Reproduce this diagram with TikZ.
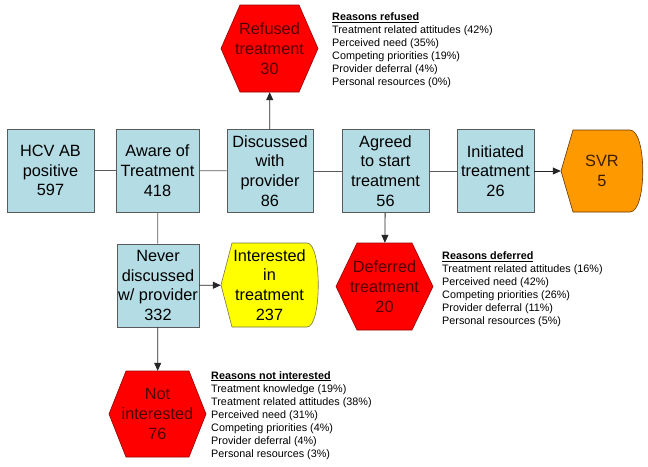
\documentclass[tikz,border=0pt]{standalone}
\usepackage{fontspec}
\setmainfont{Liberation Sans}
\usetikzlibrary{arrows.meta}
\definecolor{boxfill}{RGB}{180,220,228}
\definecolor{boxline}{RGB}{90,90,90}
\definecolor{hexred}{RGB}{255,0,0}
\definecolor{hextext}{RGB}{80,0,0}
\definecolor{yel}{RGB}{255,255,0}
\definecolor{orng}{RGB}{255,153,0}
\definecolor{svrtext}{RGB}{60,30,0}
\tikzset{
  stagebox/.style={draw=boxline, line width=0.8pt, fill=boxfill, minimum height=83pt, inner sep=0pt, align=center, font=\fontsize{16.3}{19.7}\selectfont},
  shapetext/.style={inner sep=0pt, align=center, font=\fontsize{16.3}{19.7}\selectfont},
  redshape/.style={fill=hexred, draw=red!60!black, line width=0.6pt},
  yelshape/.style={fill=yel, draw=yellow!40!black, line width=0.6pt},
  orshape/.style={fill=orng, draw=orange!40!black, line width=0.6pt},
  link/.style={draw=boxline, line width=0.8pt},
  arr/.style={draw=black!85, line width=0.8pt, -{Triangle[length=8pt,width=7pt]}},
  reasons/.style={inner sep=0pt, anchor=north west, align=left, font=\fontsize{10.8}{13}\selectfont}
}
\begin{document}
\begin{tikzpicture}[x=1pt,y=-1pt]
\useasboundingbox[fill=white] (0,0) rectangle (648,466);

% shapes (backgrounds)
\path[redshape] (221,48.5) -- (240,5) -- (299,5) -- (318,48.5) -- (299,92) -- (240,92) -- cycle;
\path[redshape] (336,286.5) -- (357,243) -- (412,243) -- (433,286.5) -- (412,330) -- (357,330) -- cycle;
\path[redshape] (109,414) -- (126,371) -- (189,371) -- (206,414) -- (189,457) -- (126,457) -- cycle;
\path[orshape] (561,171) -- (573,130) -- (630,130) .. controls (647,130) and (647,212) .. (630,212) -- (573,212) -- cycle;
\path[yelshape] (221,285) -- (232,243) -- (307,243) .. controls (322,243) and (322,327) .. (307,327) -- (232,327) -- cycle;

% boxes
\node[stagebox, minimum width=87pt] (hcv) at (50.5,170.5) {HCV AB\\positive\\597};
\node[stagebox, minimum width=83pt] (aware) at (157.5,170.5) {Aware of\\Treatment\\418};
\node[stagebox, minimum width=86pt] (disc) at (270,171) {Discussed\\with\\provider\\86};
\node[stagebox, minimum width=87pt] (agreed) at (385.5,171) {Agreed\\to start\\treatment\\56};
\node[stagebox, minimum width=77pt] (init) at (495.5,171) {Initiated\\treatment\\26};
\node[stagebox, minimum width=82pt] (never) at (158,285.5) {Never\\discussed\\w/ provider\\332};

% shape texts
\node[shapetext, text=hextext, minimum width=97pt, minimum height=87pt] (refused) at (269.5,48.5) {Refused\\treatment\\30};
\node[shapetext, text=hextext, minimum width=97pt, minimum height=87pt] (deferred) at (384.5,286.5) {Deferred\\treatment\\20};
\node[shapetext, text=hextext, minimum width=97pt, minimum height=86pt] (notint) at (157.5,414) {Not\\interested\\76};
\node[shapetext, text=svrtext, minimum width=82pt, minimum height=82pt] (svr) at (602,171) {SVR\\5};
\node[shapetext, minimum width=97pt, minimum height=84pt] (inter) at (269.5,285) {Interested\\in\\treatment\\237};

% connectors
\draw[link] (hcv) -- (aware);
\draw[link] (aware) -- (disc);
\draw[link] (disc) -- (agreed);
\draw[link] (agreed) -- (init);
\draw[link] (aware) -- (never);
\draw[arr] (init) -- (svr);
\draw[arr] (disc) -- (refused);
\draw[arr] (agreed) -- (deferred);
\draw[arr] (never) -- (inter);
\draw[arr] (never) -- (notint);

% reasons
\node[reasons] (rref) at (332,12.5) {\underline{\textbf{Reasons refused}}\\Treatment related attitudes (42\%)\\Perceived need (35\%)\\Competing priorities (19\%)\\Provider deferral (4\%)\\Personal resources (0\%)};
\node[reasons] (rdef) at (442,251.5) {\underline{\textbf{Reasons deferred}}\\Treatment related attitudes (16\%)\\Perceived need (42\%)\\Competing priorities (26\%)\\Provider deferral (11\%)\\Personal resources (5\%)};
\node[reasons] (rnot) at (211,371) {\underline{\textbf{Reasons not interested}}\\Treatment knowledge (19\%)\\Treatment related attitudes (38\%)\\Perceived need (31\%)\\Competing priorities (4\%)\\Provider deferral (4\%)\\Personal resources (3\%)};
\end{tikzpicture}
\end{document}
